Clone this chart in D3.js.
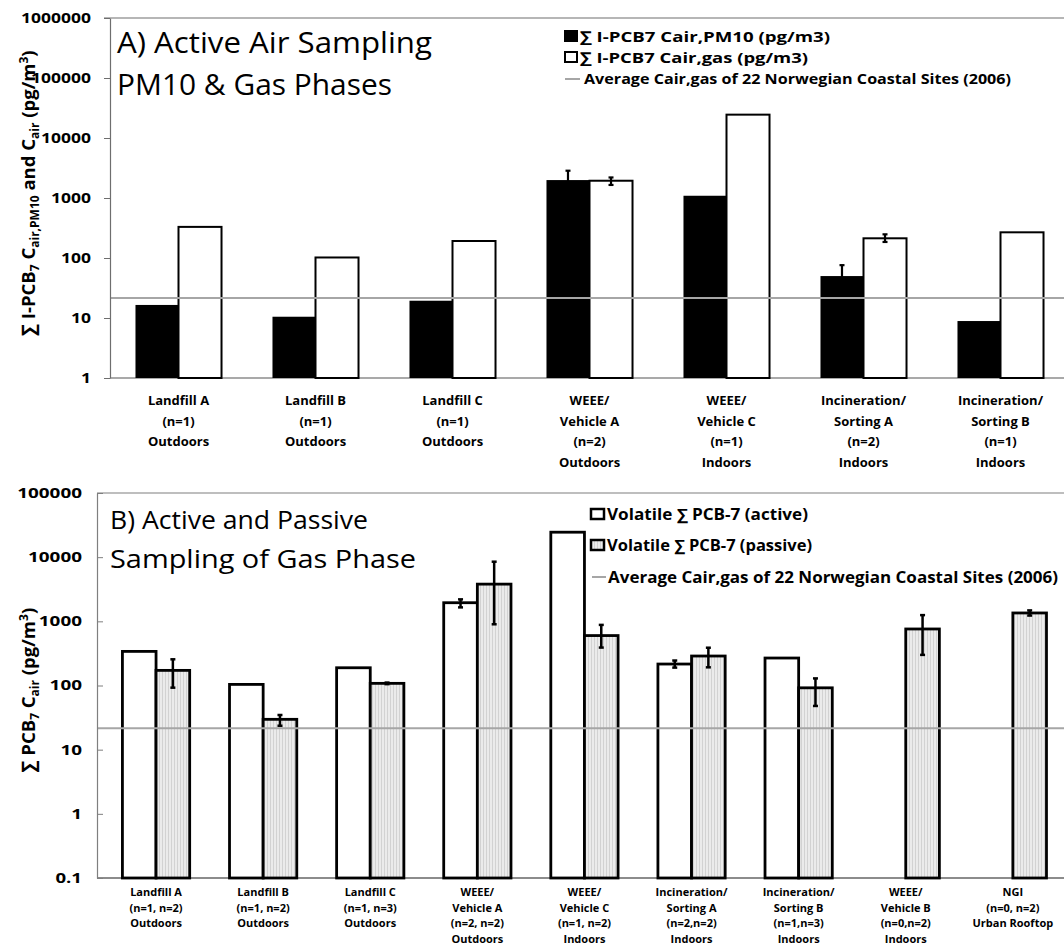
<!DOCTYPE html>
<html>
<head>
<meta charset="utf-8">
<script src="https://cdn.jsdelivr.net/npm/d3@7"></script>
<style>
  body { margin: 0; background: #fff; }
  svg { display: block; }
  text { font-family: 'Open Sans', 'DejaVu Sans', sans-serif; fill: #000; }
</style>
</head>
<body>
<svg id="chart" width="1064" height="950"></svg>
<script>
// ---------- Panel A: active air sampling, PM10 and gas phases ----------
const sitesA = [
  "Landfill A\n(n=1)\nOutdoors",
  "Landfill B\n(n=1)\nOutdoors",
  "Landfill C\n(n=1)\nOutdoors",
  "WEEE/\nVehicle A\n(n=2)\nOutdoors",
  "WEEE/\nVehicle C\n(n=1)\nIndoors",
  "Incineration/\nSorting A\n(n=2)\nIndoors",
  "Incineration/\nSorting B\n(n=1)\nIndoors"
];
const pm10A    = [16.5, 10.5, 19.4, 1990, 1090, 50, 8.9];
const pm10AHi  = [null, null, null, 2850, null, 76, null];
const pm10ALo  = [null, null, null, 1130, null, 24, null];
const gasA     = [330, 102, 192, 1940, 24500, 213, 268];
const gasAHi   = [null, null, null, 2200, null, 248, null];
const gasALo   = [null, null, null, 1650, null, 185, null];
const ticksA   = [1, 10, 100, 1000, 10000, 100000, 1000000];

// ---------- Panel B: active and passive sampling of gas phase ----------
const sitesB = [
  "Landfill A\n(n=1, n=2)\nOutdoors",
  "Landfill B\n(n=1, n=2)\nOutdoors",
  "Landfill C\n(n=1, n=3)\nOutdoors",
  "WEEE/\nVehicle A\n(n=2, n=2)\nOutdoors",
  "WEEE/\nVehicle C\n(n=1, n=2)\nIndoors",
  "Incineration/\nSorting A\n(n=2,n=2)\nIndoors",
  "Incineration/\nSorting B\n(n=1,n=3)\nIndoors",
  "WEEE/\nVehicle B\n(n=0,n=2)\nIndoors",
  "NGI\n(n=0, n=2)\nUrban Rooftop"
];
const activeB   = [340, 104, 189, 1950, 24500, 216, 268, null, null];
const activeBHi = [null, null, null, 2200, null, 245, null, null, null];
const activeBLo = [null, null, null, 1650, null, 190, null, null, null];
const passiveB   = [172, 29.7, 108, 3800, 600, 288, 92, 760, 1350];
const passiveBHi = [256, 34.7, 111, 8500, 880, 388, 129, 1250, 1480];
const passiveBLo = [92.5, 23.6, 105, 900, 390, 192, 48, 300, 1230];
const ticksB = [0.1, 1, 10, 100, 1000, 10000, 100000];

// background level measured at Norwegian coastal sites
const coastalAvg = 21.5;

const svg = d3.select("#chart");
const W = 1064;

// hatched fill used for passive samplers
const defs = svg.append("defs");
const pat = defs.append("pattern")
  .attr("id", "passiveFill").attr("patternUnits", "userSpaceOnUse")
  .attr("width", 3).attr("height", 4);
pat.append("rect").attr("width", 3).attr("height", 4).attr("fill", "#ebebeb");
pat.append("line").attr("x1", 0.5).attr("x2", 0.5).attr("y1", 0).attr("y2", 4)
  .attr("stroke", "#d2d2d2").attr("stroke-width", 1);

// text stretched to a given run length (the labels use a wide face)
function fitText(g, x, y, size, len, str, bold) {
  return g.append("text").attr("x", x).attr("y", y).attr("font-size", size)
    .attr("font-weight", bold ? "bold" : "normal")
    .attr("textLength", len).attr("lengthAdjust", "spacingAndGlyphs")
    .text(str);
}

function categoryLabels(g, sites, x, y0, lineH, size) {
  sites.forEach((s) => {
    const t = g.append("text")
      .attr("text-anchor", "middle")
      .attr("font-weight", "bold")
      .attr("font-size", size);
    s.split("\n").forEach((line, j) => {
      t.append("tspan")
        .attr("x", x(s) + x.bandwidth() / 2)
        .attr("y", y0 + j * lineH)
        .text(line);
    });
  });
}

function errorBars(g, sites, x, sub, key, y, hi, lo, cap, sw) {
  sites.forEach((s, i) => {
    if (hi[i] == null) return;
    const cx = x(s) + sub(key) + sub.bandwidth() / 2;
    const eg = g.append("g").attr("stroke", "#000").attr("stroke-width", sw);
    eg.append("line").attr("x1", cx).attr("x2", cx).attr("y1", y(hi[i])).attr("y2", y(lo[i]));
    eg.append("line").attr("x1", cx - cap).attr("x2", cx + cap).attr("y1", y(hi[i])).attr("y2", y(hi[i]));
    eg.append("line").attr("x1", cx - cap).attr("x2", cx + cap).attr("y1", y(lo[i])).attr("y2", y(lo[i]));
  });
}

function styleAxis(ax, color, digitW, size) {
  ax.select(".domain").attr("stroke", color).attr("stroke-width", 1.2);
  ax.selectAll(".tick line").attr("stroke", color);
  ax.selectAll(".tick text")
    .attr("font-weight", "bold").attr("font-size", size)
    .attr("textLength", function () {
      const t = this.textContent;
      const digits = t.replace(/[^0-9]/g, "").length;
      return digits * digitW + (t.includes(".") ? 5 : 0);
    })
    .attr("lengthAdjust", "spacingAndGlyphs");
}

// ================= Panel A =================
{
  const left = 110, top = 18, bottom = 378;
  const x = d3.scaleBand().domain(sitesA).range([left, left + 137 * sitesA.length]);
  const bw = x.bandwidth();
  const sub = d3.scaleBand().domain(["pm10", "gas"]).range([bw * 0.186, bw * 0.814]);
  const y = d3.scaleLog().domain([1, 1e6]).range([bottom, top]);
  const g = svg.append("g");

  // frame lines
  g.append("line").attr("x1", left - 6).attr("x2", W).attr("y1", top).attr("y2", top)
    .attr("stroke", "#6e6e6e").attr("stroke-width", 1.2);
  g.append("line").attr("x1", left).attr("x2", W).attr("y1", bottom).attr("y2", bottom)
    .attr("stroke", "#8c8c8c").attr("stroke-width", 1.5);

  // bars
  g.selectAll("rect.pm").data(sitesA).join("rect")
    .attr("x", s => x(s) + sub("pm10"))
    .attr("width", sub.bandwidth())
    .attr("y", (s, i) => y(pm10A[i]))
    .attr("height", (s, i) => bottom - y(pm10A[i]))
    .attr("fill", "#000");
  g.selectAll("rect.gas").data(sitesA).join("rect")
    .attr("x", s => x(s) + sub("gas"))
    .attr("width", sub.bandwidth())
    .attr("y", (s, i) => y(gasA[i]))
    .attr("height", (s, i) => bottom - y(gasA[i]))
    .attr("fill", "#fff").attr("stroke", "#000").attr("stroke-width", 2);

  errorBars(g, sitesA, x, sub, "pm10", y, pm10AHi, pm10ALo, 2.5, 2.2);
  errorBars(g, sitesA, x, sub, "gas", y, gasAHi, gasALo, 2.5, 2.2);

  // coastal background line
  g.append("line").attr("x1", left).attr("x2", W)
    .attr("y1", y(coastalAvg)).attr("y2", y(coastalAvg))
    .attr("stroke", "#a6a6a6").attr("stroke-width", 2);

  // y axis
  const ax = g.append("g").attr("transform", `translate(${left},0)`)
    .call(d3.axisLeft(y).tickValues(ticksA).tickFormat(d3.format("d"))
      .tickSizeInner(6).tickSizeOuter(0).tickPadding(13));
  styleAxis(ax, "#6e6e6e", 10, 14);

  categoryLabels(g, sitesA, x, 405, 20.5, 13);

  // title inside plot
  fitText(g, 117, 53, 28.5, 315, "A) Active Air Sampling", false);
  fitText(g, 117, 95, 28.5, 275, "PM10 & Gas Phases", false);

  // y-axis title
  const yt = g.append("text")
    .attr("transform", "translate(35,193) rotate(-90)")
    .attr("text-anchor", "middle").attr("font-weight", "bold").attr("font-size", 18.5);
  yt.append("tspan").text("\u2211 I-PCB");
  yt.append("tspan").attr("font-size", 12).attr("dy", 4).text("7");
  yt.append("tspan").attr("dy", -4).text(" C");
  yt.append("tspan").attr("font-size", 12).attr("dy", 4).text("air,PM10");
  yt.append("tspan").attr("dy", -4).text(" and C");
  yt.append("tspan").attr("font-size", 12).attr("dy", 4).text("air");
  yt.append("tspan").attr("dy", -4).text(" (pg/m");
  yt.append("tspan").attr("font-size", 12).attr("dy", -7).text("3");
  yt.append("tspan").attr("dy", 7).text(")");

  // legend
  const lg = g.append("g");
  lg.append("rect").attr("x", 564).attr("y", 30).attr("width", 14).attr("height", 12).attr("fill", "#000");
  fitText(lg, 580, 42, 14.6, 250, "\u2211 I-PCB7 Cair,PM10 (pg/m3)", true);
  lg.append("rect").attr("x", 565).attr("y", 52).attr("width", 12).attr("height", 10)
    .attr("fill", "#fff").attr("stroke", "#000").attr("stroke-width", 2);
  fitText(lg, 580, 63, 14.6, 228, "\u2211 I-PCB7 Cair,gas (pg/m3)", true);
  lg.append("line").attr("x1", 565).attr("x2", 580).attr("y1", 79).attr("y2", 79)
    .attr("stroke", "#a6a6a6").attr("stroke-width", 2);
  fitText(lg, 584, 84, 14.6, 427, "Average Cair,gas of 22 Norwegian Coastal Sites (2006)", true);
}

// ================= Panel B =================
{
  const axisX = 97, top = 493, bottom = 878;
  const x = d3.scaleBand().domain(sitesB).range([102.5, 102.5 + 107.1 * sitesB.length]);
  const bw = x.bandwidth();
  const sub = d3.scaleBand().domain(["active", "passive"]).range([bw * 0.186, bw * 0.814]);
  const y = d3.scaleLog().domain([0.1, 1e5]).range([bottom, top]);
  const g = svg.append("g");

  g.append("line").attr("x1", axisX).attr("x2", W).attr("y1", top).attr("y2", top)
    .attr("stroke", "#7f7f7f").attr("stroke-width", 1.2);
  g.append("line").attr("x1", axisX).attr("x2", W).attr("y1", bottom).attr("y2", bottom)
    .attr("stroke", "#8c8c8c").attr("stroke-width", 1.8);

  const idx = sitesB.map((s, i) => i);
  g.selectAll("rect.act").data(idx.filter(i => activeB[i] != null)).join("rect")
    .attr("x", i => x(sitesB[i]) + sub("active"))
    .attr("width", sub.bandwidth())
    .attr("y", i => y(activeB[i]))
    .attr("height", i => bottom - y(activeB[i]))
    .attr("fill", "#fff").attr("stroke", "#000").attr("stroke-width", 2.8);
  g.selectAll("rect.pas").data(idx.filter(i => passiveB[i] != null)).join("rect")
    .attr("x", i => x(sitesB[i]) + sub("passive"))
    .attr("width", sub.bandwidth())
    .attr("y", i => y(passiveB[i]))
    .attr("height", i => bottom - y(passiveB[i]))
    .attr("fill", "url(#passiveFill)").attr("stroke", "#000").attr("stroke-width", 2.8);

  errorBars(g, sitesB, x, sub, "active", y, activeBHi, activeBLo, 2.5, 2.5);
  errorBars(g, sitesB, x, sub, "passive", y, passiveBHi, passiveBLo, 2.5, 2.5);

  g.append("line").attr("x1", axisX).attr("x2", W)
    .attr("y1", y(coastalAvg)).attr("y2", y(coastalAvg))
    .attr("stroke", "#a6a6a6").attr("stroke-width", 2);

  const ax = g.append("g").attr("transform", `translate(${axisX},0)`)
    .call(d3.axisLeft(y).tickValues(ticksB)
      .tickFormat(d => d < 1 ? "0.1" : d3.format("d")(d))
      .tickSizeInner(-6).tickSizeOuter(0).tickPadding(15));
  styleAxis(ax, "#7f7f7f", 10.8, 14);

  categoryLabels(g, sitesB, x, 896, 15.6, 11);

  fitText(g, 110, 529, 26, 258, "B) Active and Passive", false);
  fitText(g, 110, 568, 26, 306, "Sampling of Gas Phase", false);

  const yt = g.append("text")
    .attr("transform", "translate(35,690) rotate(-90)")
    .attr("text-anchor", "middle").attr("font-weight", "bold").attr("font-size", 18.5);
  yt.append("tspan").text("\u2211 PCB");
  yt.append("tspan").attr("font-size", 12).attr("dy", 4).text("7");
  yt.append("tspan").attr("dy", -4).text(" C");
  yt.append("tspan").attr("font-size", 12).attr("dy", 4).text("air");
  yt.append("tspan").attr("dy", -4).text(" (pg/m");
  yt.append("tspan").attr("font-size", 12).attr("dy", -7).text("3");
  yt.append("tspan").attr("dy", 7).text(")");

  const lg = g.append("g");
  lg.append("rect").attr("x", 591).attr("y", 509).attr("width", 13).attr("height", 10)
    .attr("fill", "#fff").attr("stroke", "#000").attr("stroke-width", 2.5);
  fitText(lg, 607, 520, 15.5, 201, "Volatile \u2211 PCB-7 (active)", true);
  lg.append("rect").attr("x", 591).attr("y", 540).attr("width", 13).attr("height", 10)
    .attr("fill", "url(#passiveFill)").attr("stroke", "#000").attr("stroke-width", 2.5);
  fitText(lg, 607, 551, 15.5, 205, "Volatile \u2211 PCB-7 (passive)", true);
  lg.append("line").attr("x1", 592).attr("x2", 606).attr("y1", 577).attr("y2", 577)
    .attr("stroke", "#a6a6a6").attr("stroke-width", 2);
  fitText(lg, 608, 583, 15.5, 450, "Average Cair,gas of 22 Norwegian Coastal Sites (2006)", true);
}
</script>
</body>
</html>
